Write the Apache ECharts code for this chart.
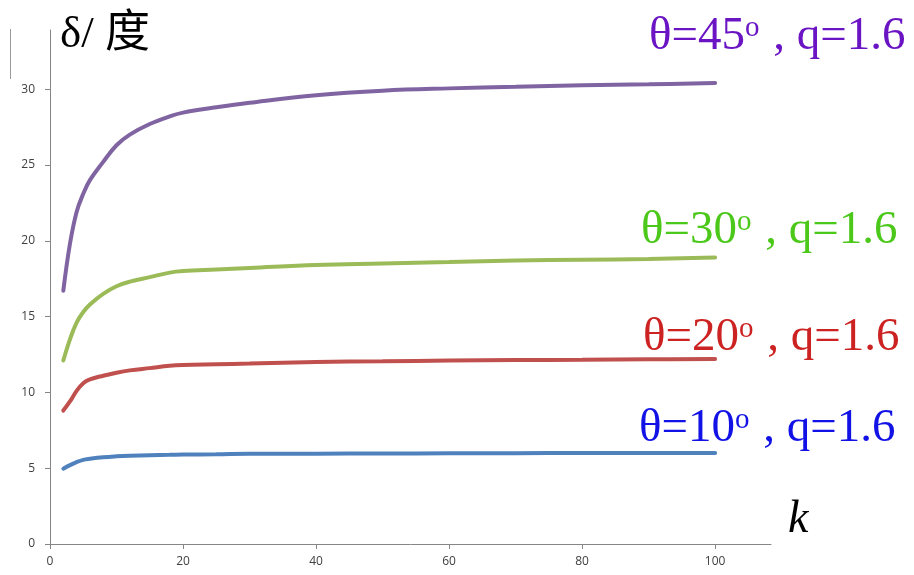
<!DOCTYPE html>
<html>
<head>
<meta charset="utf-8">
<script src="https://cdn.jsdelivr.net/npm/echarts@6/dist/echarts.min.js"></script>
<style>
  html, body { margin: 0; padding: 0; background: #fff; }
  #chart { width: 914px; height: 575px; }
</style>
</head>
<body>
<div id="chart"></div>
<script>
// k values where δ was evaluated
const kValues = [2, 3, 4, 5, 6, 8, 10, 12, 15, 18, 20, 25, 30, 40, 50, 60, 70, 80, 90, 100];

// δ (degrees) for q = 1.6 at several θ
const delta45 = [16.7, 19.8, 21.9, 23.1, 24.0, 25.2, 26.3, 27.0, 27.7, 28.2, 28.45, 28.8, 29.1, 29.6, 29.9, 30.05, 30.15, 30.25, 30.32, 30.4];
const delta30 = [12.1, 13.5, 14.6, 15.3, 15.8, 16.5, 17.0, 17.3, 17.6, 17.9, 18.0, 18.1, 18.2, 18.4, 18.5, 18.6, 18.7, 18.75, 18.8, 18.9];
const delta20 = [8.8, 9.4, 10.1, 10.6, 10.85, 11.1, 11.3, 11.45, 11.6, 11.75, 11.8, 11.85, 11.9, 12.0, 12.05, 12.1, 12.13, 12.15, 12.18, 12.2];
const delta10 = [4.97, 5.2, 5.4, 5.55, 5.62, 5.72, 5.78, 5.82, 5.86, 5.88, 5.9, 5.92, 5.95, 5.96, 5.97, 5.98, 5.99, 6.0, 6.0, 6.0];

// axis tick labels
const xTicks = [0, 20, 40, 60, 80, 100];
const yTicks = [0, 5, 10, 15, 20, 25, 30];

// curve labels
const seriesNames = ['θ=45', 'θ=30', 'θ=20', 'θ=10'];
const qLabel = ' , q=1.6';

const lineColors = ['#8064A2', '#9BBB59', '#C0504D', '#4F81BD'];
const textColors = ['#6A14C4', '#4CC81A', '#CC2222', '#1212E6'];
const seriesData = [delta45, delta30, delta20, delta10];

const pair = arr => kValues.map((k, i) => [k, arr[i]]);

const serifFont = '"Liberation Serif", "DejaVu Serif", serif';
const labelPos = [[649, 37], [641, 231], [643, 338], [639, 429]];

const chart = echarts.init(document.getElementById('chart'), null, { renderer: 'canvas' });

const series = seriesData.map((d, i) => ({
  type: 'line',
  data: pair(d),
  smooth: 0.4,
  showSymbol: false,
  lineStyle: { color: lineColors[i], width: 4, cap: 'round' },
  z: 3
}));

const graphics = seriesNames.map((name, i) => ({
  type: 'text',
  x: labelPos[i][0],
  y: labelPos[i][1],
  style: {
    text: '{a|' + name + '}{s|o}{a|' + qLabel + '}',
    verticalAlign: 'middle',
    rich: {
      a: { fontFamily: serifFont, fontSize: 47, fill: textColors[i], color: textColors[i] },
      s: { fontFamily: serifFont, fontSize: 29, fill: textColors[i], color: textColors[i], verticalAlign: 'top', padding: [0, 2, 0, 0] }
    }
  }
}));

graphics.push({
  type: 'text', x: 60, y: 35,
  style: {
    text: 'δ/ 度',
    font: '45px "Liberation Serif", "Noto Sans CJK SC", serif',
    fill: '#000', verticalAlign: 'middle'
  }
});
graphics.push({
  type: 'text', x: 788, y: 520,
  style: {
    text: 'k',
    font: 'italic 46px "Liberation Serif", "DejaVu Serif", serif',
    fill: '#000', verticalAlign: 'middle'
  }
});
graphics.push({
  type: 'line',
  shape: { x1: 10.5, y1: 29, x2: 10.5, y2: 79 },
  style: { stroke: '#9a9a9a', lineWidth: 1 }
});

chart.setOption({
  animation: false,
  backgroundColor: '#fff',
  grid: { left: 50, right: 143, top: 30, bottom: 31, containLabel: false },
  xAxis: {
    type: 'value',
    min: 0,
    max: 108.4,
    axisLine: { show: true, lineStyle: { color: '#868686', width: 1 } },
    axisTick: { show: true, length: 5, lineStyle: { color: '#868686' }, customValues: xTicks },
    axisLabel: { customValues: xTicks, color: '#404040', fontSize: 12, fontFamily: '"Open Sans", "DejaVu Sans", sans-serif', margin: 12 },
    splitLine: { show: false }
  },
  yAxis: {
    type: 'value',
    min: 0,
    max: 33.9,
    axisLine: { show: true, lineStyle: { color: '#868686', width: 1 } },
    axisTick: { show: true, length: 5, lineStyle: { color: '#868686' }, customValues: yTicks },
    axisLabel: { customValues: yTicks, color: '#404040', fontSize: 12, fontFamily: '"Open Sans", "DejaVu Sans", sans-serif', margin: 15 },
    splitLine: { show: false }
  },
  series: series,
  graphic: graphics
});
</script>
</body>
</html>
